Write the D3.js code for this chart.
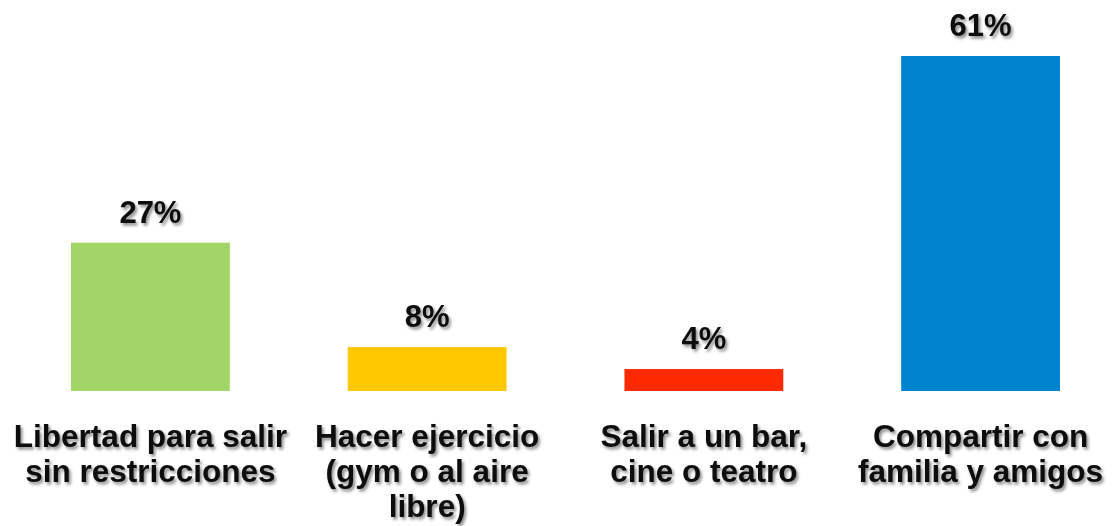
<!DOCTYPE html>
<html>
<head>
<meta charset="utf-8">
<script src="https://cdn.jsdelivr.net/npm/d3@7"></script>
<style>
  body { margin: 0; background: #fff; }
  svg { display: block; }
</style>
</head>
<body>
<div id="chart"></div>
<script>
const categories = ["libertad", "ejercicio", "bar", "familia"];
const labelLines = [
  ["Libertad para salir", "sin restricciones"],
  ["Hacer ejercicio", "(gym o al aire", "libre)"],
  ["Salir a un bar,", "cine o teatro"],
  ["Compartir con", "familia y amigos"]
];
const values = [27, 8, 4, 61];
const colors = ["#A2D567", "#FFC800", "#FF2A00", "#0084D0"];

const width = 1114, height = 526;
const baseline = 391;

const svg = d3.select("#chart").append("svg")
  .attr("width", width)
  .attr("height", height);

const defs = svg.append("defs");
defs.append("filter")
  .attr("id", "shadow")
  .attr("x", "-10%").attr("y", "-20%")
  .attr("width", "130%").attr("height", "160%")
  .append("feDropShadow")
  .attr("dx", 2).attr("dy", 2.5)
  .attr("stdDeviation", 1.6)
  .attr("flood-color", "#000")
  .attr("flood-opacity", 0.45);

const x = d3.scaleBand()
  .domain(categories)
  .range([71, 1060])
  .paddingInner(0.426)
  .paddingOuter(0);

const y = d3.scaleLinear()
  .domain([0, 61])
  .range([baseline, 56]);

const data = categories.map((c, i) => ({
  key: c, value: values[i], color: colors[i], lines: labelLines[i]
}));

svg.selectAll("rect.bar")
  .data(data)
  .enter()
  .append("rect")
  .attr("class", "bar")
  .attr("x", d => x(d.key))
  .attr("y", d => y(d.value))
  .attr("width", x.bandwidth())
  .attr("height", d => baseline - y(d.value))
  .attr("fill", d => d.color);

const font = "'Liberation Sans', Arial, sans-serif";

svg.selectAll("text.value")
  .data(data)
  .enter()
  .append("text")
  .attr("class", "value")
  .attr("x", d => x(d.key) + x.bandwidth() / 2)
  .attr("y", d => y(d.value) - 20)
  .attr("text-anchor", "middle")
  .attr("font-family", font)
  .attr("font-weight", "bold")
  .attr("font-size", 31)
  .attr("fill", "#0a0a0a")
  .attr("filter", "url(#shadow)")
  .text(d => d.value + "%");

const labels = svg.selectAll("text.cat")
  .data(data)
  .enter()
  .append("text")
  .attr("class", "cat")
  .attr("text-anchor", "middle")
  .attr("font-family", font)
  .attr("font-weight", "bold")
  .attr("font-size", 31.5)
  .attr("fill", "#0a0a0a")
  .attr("filter", "url(#shadow)");

labels.selectAll("tspan")
  .data(d => d.lines.map(l => ({ text: l, cx: x(d.key) + x.bandwidth() / 2 })))
  .enter()
  .append("tspan")
  .attr("x", d => d.cx)
  .attr("y", (d, i) => 447 + i * 35)
  .text(d => d.text);
</script>
</body>
</html>
